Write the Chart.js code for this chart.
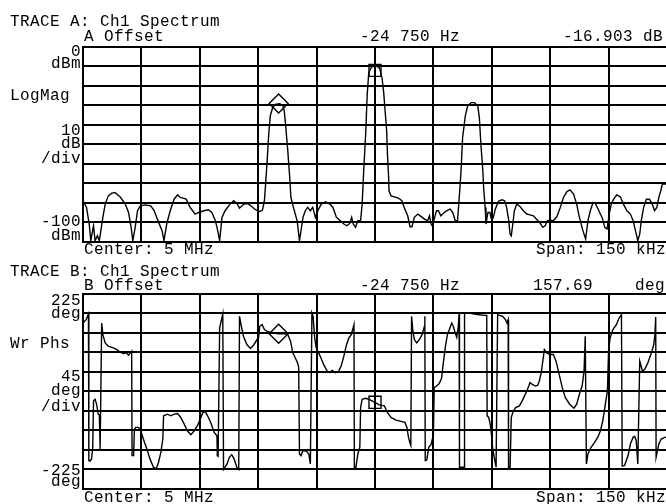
<!DOCTYPE html>
<html>
<head>
<meta charset="utf-8">
<script src="https://cdn.jsdelivr.net/npm/chart.js@4.4.1/dist/chart.umd.min.js"></script>
<style>
  html, body { margin: 0; padding: 0; background: #fff; overflow: hidden; width: 666px; height: 504px; }
  canvas { position: absolute; left: 0; }
  #magChart { top: 0; }
  #phaseChart { top: 259px; }
</style>
</head>
<body>
<canvas id="magChart" width="670" height="259"></canvas>
<canvas id="phaseChart" width="670" height="245"></canvas>
<script>
// frequency offsets are in kHz from the 5 MHz center, span 150 kHz
const specFreq = [-75, -74.1, -73.4, -73.0, -72.3, -71.9, -71.3, -70.8, -69.9, -69.3, -68.5, -67.6, -66.8, -65.5, -64.2, -63.3, -62.7, -62.2, -61.6, -61.0,
  -60.3, -59.0, -57.6, -56.7, -55.9, -54.7, -54.2, -53.5, -52.6, -51.6, -50.7, -50.0, -48.5, -47.5, -46.2, -45.3, -44.0, -42.8, -41.9, -41.0,
  -40.4, -39.9, -39.3, -38.5, -37.4, -36.3, -35.5, -34.8, -33.7, -32.7, -31.9, -30.7, -29.6, -28.9, -28.4, -28.1, -27.7, -27.3, -26.9, -26.3,
  -25.6, -24.5, -23.7, -23.3, -22.9, -22.4, -21.9, -21.6, -20.9, -20.0, -19.4, -19.0, -18.5, -17.9, -17.3, -16.6, -16.0, -15.3, -14.7, -13.8,
  -12.7, -11.6, -10.8, -9.9, -8.9, -8.0, -7.2, -6.5, -6.0, -5.6, -5.0, -4.4, -3.7, -3.3, -2.9, -2.4, -2.0, -1.6, -1.0, -0.6,
  0.4, 1.2, 1.8, 2.2, 2.6, 3.0, 3.2, 3.5, 3.6, 4.1, 5.0, 6.0, 6.9, 7.5, 8.4, 9.0, 9.5, 10.1, 11.0, 11.8,
  12.7, 13.5, 14.0, 14.4, 14.8, 15.2, 15.8, 16.3, 16.9, 17.8, 18.7, 19.3, 20.0, 20.6, 21.2, 21.7, 22.1, 22.5, 23.2, 23.8,
  24.7, 25.5, 26.4, 26.8, 27.2, 27.7, 27.9, 28.3, 28.5, 29.0, 29.5, 30.0, 30.4, 30.9, 31.7, 32.6, 33.3, 33.8, 34.3, 34.7,
  35.0, 35.4, 35.8, 36.4, 37.3, 38.1, 39.0, 39.8, 40.7, 41.6, 42.4, 43.1, 43.7, 44.3, 45.0, 45.8, 46.7, 47.6, 48.4, 49.3,
  50.1, 51.0, 51.8, 52.5, 53.4, 54.1, 54.7, 55.3, 56.0, 56.6, 57.5, 58.4, 59.0, 59.6, 60.3, 60.7, 61.3, 62.1, 63.0, 63.8,
  64.7, 65.6, 66.3, 66.9, 67.5, 68.0, 68.4, 69.0, 69.7, 70.5, 71.2, 71.8, 72.4, 72.9, 73.4, 73.8, 75.0];
const specLevel = [-78.9, -82.3, -90.8, -99.3, -91.7, -99.3, -96.8, -99.3, -87.4, -80.6, -76.4, -75.0, -74.7, -76.9, -80.3, -84.9, -91.7, -99.3, -92.5, -84.0,
  -81.5, -81.0, -81.5, -84.0, -88.3, -94.2, -99.3, -90.8, -84.0, -78.1, -75.9, -77.2, -78.1, -82.3, -85.7, -84.9, -84.0, -83.5, -84.9, -89.1,
  -94.2, -99.3, -87.4, -84.0, -81.0, -78.9, -80.1, -82.7, -80.6, -80.3, -81.5, -83.5, -84.4, -83.7, -78.9, -70.4, -58.5, -44.9, -35.5, -31.3,
  -29.6, -29.3, -30.0, -33.0, -41.5, -53.4, -67.0, -77.2, -82.7, -89.1, -99.3, -94.2, -87.4, -84.0, -82.3, -84.0, -82.3, -87.4, -84.0, -80.6,
  -79.4, -80.6, -82.3, -87.4, -89.1, -90.8, -91.7, -90.5, -87.4, -90.8, -92.5, -89.1, -89.1, -80.6, -63.6, -44.9, -24.5, -13.4, -10.9, -10.2,
  -9.9, -11.2, -16.0, -22.8, -33.0, -43.2, -55.1, -67.0, -73.8, -76.4, -76.9, -77.5, -78.9, -82.3, -86.6, -92.2, -92.2, -87.4, -85.7, -86.9,
  -88.3, -89.1, -86.6, -90.8, -92.0, -88.3, -84.0, -84.0, -86.6, -84.9, -83.7, -83.2, -84.9, -89.1, -89.1, -75.5, -63.6, -46.6, -35.5, -30.4,
  -28.7, -28.7, -30.4, -36.4, -50.0, -63.6, -72.1, -82.3, -90.8, -84.9, -84.9, -89.1, -87.4, -83.2, -79.2, -78.4, -78.9, -82.3, -88.3, -95.9,
  -96.8, -90.8, -84.0, -80.6, -82.0, -84.0, -85.7, -86.1, -86.6, -88.6, -90.3, -92.5, -91.7, -89.1, -88.8, -89.1, -87.1, -82.3, -77.2, -74.2,
  -73.3, -75.5, -80.6, -87.4, -94.2, -98.5, -89.1, -84.0, -79.8, -80.3, -84.0, -87.8, -92.5, -93.4, -84.0, -80.6, -78.1, -75.9, -76.9, -80.6,
  -84.0, -85.7, -89.1, -94.2, -99.3, -95.9, -89.1, -82.3, -78.1, -78.1, -80.6, -84.0, -82.3, -77.2, -73.8, -70.4, -70.4];

const phaseFreq = [-75, -74.2, -73.6, -73.5, -73.2, -72.8, -72.5, -72.3, -71.9, -71.5, -71.1, -70.8, -70.6, -70.4, -70.2, -69.9, -69.3, -68.5, -67.2, -66.3,
  -65.5, -64.6, -63.9, -63.3, -62.7, -62.5, -62.4, -62.0, -61.8, -61.4, -60.8, -60.3, -59.5, -58.6, -57.8, -56.9, -56.2, -55.6, -55.0, -54.5,
  -54.3, -53.3, -52.4, -51.6, -50.7, -49.9, -49.0, -48.2, -47.3, -46.4, -45.6, -44.9, -44.2, -43.6, -43.0, -42.2, -41.3, -40.6, -40.5, -40.3,
  -39.9, -39.1, -38.9, -38.0, -37.4, -36.8, -36.2, -35.5, -35.0, -34.8, -34.4, -33.8, -32.9, -32.0, -31.2, -30.3, -29.9, -29.6, -29.0, -28.4,
  -27.7, -26.5, -24.75, -23.3, -22.4, -21.7, -21.1, -20.5, -19.9, -19.6, -19.4, -19.0, -18.5, -17.6, -17.0, -16.6, -16.2, -15.9, -15.5, -15.1,
  -14.5, -13.9, -13.2, -12.3, -11.6, -11.0, -10.2, -9.3, -8.7, -8.0, -7.3, -6.7, -6.1, -5.4, -5.3, -4.9, -4.4, -3.9, -3.7, -3.3,
  -2.4, -1.6, -0.8, 0, 1.1, 2.4, 3.2, 4.1, 5.4, 6.7, 7.7, 8.2, 8.6, 9.1, 9.2, 9.4, 9.7, 10.1, 10.7, 11.4,
  12.1, 12.7, 12.8, 12.9, 13.3, 13.8, 14.4, 15.0, 15.2, 15.8, 16.5, 17.1, 17.5, 18.1, 18.6, 19.1, 19.7, 20.1, 20.6, 21.0,
  21.4, 21.6, 21.7, 22.9, 23.0, 24.2, 25.5, 26.8, 28.3, 28.7, 28.8, 29.2, 29.6, 29.9, 30.2, 30.7, 31.1, 31.5, 32.0, 32.8,
  33.5, 33.9, 34.2, 34.3, 34.7, 35.0, 35.4, 36.1, 37.1, 37.8, 38.4, 39.0, 39.5, 39.8, 40.4, 41.2, 41.8, 42.2, 42.7, 43.1,
  43.5, 44.1, 45.0, 45.8, 46.5, 47.2, 48.1, 48.9, 50.0, 51.1, 51.8, 52.5, 53.2, 53.7, 54.0, 54.3, 54.7, 55.5, 56.4, 57.3,
  57.9, 58.5, 59.1, 59.7, 60.0, 60.4, 61.1, 62.0, 62.7, 63.3, 63.5, 64.1, 65.0, 65.6, 66.3, 66.7, 67.1, 67.5, 68.0, 68.7,
  69.3, 70.1, 71.0, 71.6, 71.9, 72.1, 72.2, 72.4, 72.9, 73.5, 74.4, 75.0];
const phaseDeg = [157.1, 164.8, 177.7, -159.5, -161.0, -155.7, -129.0, -22.2, -18.4, -29.8, -52.7, -54.2, -132.8, -132.8, 157.1, 130.4, 111.3, 103.7, 99.9, 96.1,
  90.0, 86.9, 88.4, 83.1, 90.0, 92.3, -148.1, -148.1, -87.0, -83.2, -83.2, -87.0, -109.9, -132.8, -155.7, -174.8, -178.6, -163.3, -140.5, -109.9,
  -56.5, -52.7, -56.5, -52.7, -51.2, -60.3, -75.6, -90.9, -100.0, -90.9, -79.4, -64.2, -48.9, -46.6, -56.5, -71.8, -94.7, -102.3, -148.1, -149.6,
  145.7, 177.7, -180.0, -167.2, -151.9, -145.8, -155.7, -174.8, -180.0, 172.4, 153.3, 126.6, 107.5, 98.4, 106.0, 119.0, 122.8, 149.5, 153.3, 141.9,
  138.0, 134.5, 132.2, 133.0, 130.4, 115.1, 88.4, 77.0, 65.6, 55.6, -144.3, -148.1, -136.6, -138.2, -144.3, -167.2, 180.0, 172.4, 122.8, 99.9,
  88.4, 77.0, 61.7, 46.5, 42.7, 48.0, 42.7, 46.5, 57.9, 80.8, 107.5, 122.8, 130.4, 153.3, -174.8, -174.8, -144.3, -129.0, -37.5, -18.4,
  -16.1, -18.4, -22.0, -25.5, -31.3, -33.6, -48.9, -60.3, -66.4, -69.5, -71.8, -83.2, -106.1, -122.9, -125.2, 172.4, 141.9, 119.0, 111.3, 119.0,
  130.4, 149.5, 172.4, -159.5, -158.0, -129.0, -122.9, -100.0, 8.3, 12.1, 17.5, 29.7, 61.7, 103.7, 130.4, 141.9, 157.1, 149.5, 134.2, 124.3,
  149.5, 180.0, -174.8, -174.8, 180.0, 180.0, 177.7, 176.2, 174.7, 174.7, -56.5, -60.3, -75.6, -98.5, -129.0, -155.7, -174.8, 176.2, 174.7, 172.4,
  164.8, 157.1, 164.8, -174.8, -174.8, -60.3, -48.9, -37.5, -33.6, -22.2, -10.7, 0.7, 12.1, 19.8, 16.0, 12.1, 13.7, 23.6, 42.7, 69.4,
  96.1, 88.4, 84.6, 84.6, 69.4, 42.7, 8.3, -14.6, -29.8, -39.0, -29.8, -6.9, 12.1, 46.5, 126.6, -167.2, -144.3, -129.0, -117.6, -104.6,
  -90.9, -68.0, -33.6, 0.7, 96.1, 122.8, 141.9, 153.3, 168.6, 176.2, -172.5, -171.0, -148.1, -121.4, -106.1, -103.8, -113.7, -167.2, 69.4, 46.5,
  50.3, 65.6, 88.4, 107.5, 130.4, 170.9, -151.9, -151.9, -121.4, -109.9, -106.1, -106.1];

// offset marker (diamond) and main marker (square)
const markerFreq = [-24.75, 0];
const markerMag = [-29.1, -12.2];
const markerPhase = [132.2, -25.5];

const magRange = [-100, 0, 10];
const phaseRange = [-225, 225, 45];

const magLabels = [
  ['TRACE A: Ch1 Spectrum', 10, 26, 'left'], ['A Offset', 84, 40.5, 'left'],
  ['-24 750 Hz', 360, 40.5, 'left'], ['-16.903 dB', 563, 40.5, 'left'],
  ['0', 81, 55.5, 'right'], ['dBm', 81, 68, 'right'], ['LogMag', 10, 100, 'left'],
  ['10', 81, 135, 'right'], ['dB', 81, 148, 'right'], ['/div', 81, 163, 'right'],
  ['-100', 81, 226, 'right'], ['dBm', 81, 240, 'right'],
  ['Center: 5 MHz', 84, 254, 'left'], ['Span: 150 kHz', 536, 254, 'left']
];
const phaseLabels = [
  ['TRACE B: Ch1 Spectrum', 10, 17, 'left'], ['B Offset', 84, 31, 'left'],
  ['-24 750 Hz', 360, 31, 'left'], ['157.69', 533, 31, 'left'], ['deg', 635, 31, 'left'],
  ['225', 81, 46, 'right'], ['deg', 81, 59, 'right'], ['Wr Phs', 10, 89, 'left'],
  ['45', 81, 122, 'right'], ['deg', 81, 136, 'right'], ['/div', 81, 152, 'right'],
  ['-225', 81, 216, 'right'], ['deg', 81, 227, 'right'],
  ['Center: 5 MHz', 84, 243, 'left'], ['Span: 150 kHz', 536, 243, 'left']
];

const screenText = {
  id: 'screenText',
  afterDraw(chart, args, opts) {
    const ctx = chart.ctx;
    ctx.save();
    ctx.fillStyle = '#000';
    ctx.font = '16px "Liberation Mono", monospace';
    ctx.letterSpacing = '0.4px';
    ctx.textBaseline = 'alphabetic';
    opts.items.forEach(([text, x, y, align]) => {
      ctx.textAlign = align;
      ctx.fillText(text, x, y);
    });
    ctx.restore();
  }
};

function pairs(xs, ys) {
  return xs.map((x, i) => ({ x: x, y: ys[i] }));
}

function makePanel(id, xs, ys, markYs, range, padding, labels) {
  const grid = { color: '#000', lineWidth: 2, drawTicks: false };
  const border = { color: '#000', width: 2 };
  return new Chart(document.getElementById(id), {
    type: 'scatter',
    data: {
      datasets: [
        {
          data: pairs(xs, ys),
          showLine: true,
          borderColor: '#000',
          borderWidth: 1.4,
          pointRadius: 0,
          tension: 0
        },
        {
          data: [{ x: markerFreq[0], y: markYs[0] }],
          showLine: false,
          pointStyle: 'rectRot',
          pointRadius: 9.5,
          borderColor: '#000',
          borderWidth: 1.4,
          backgroundColor: 'rgba(0,0,0,0)'
        },
        {
          data: [{ x: markerFreq[1], y: markYs[1] }],
          showLine: false,
          pointStyle: 'rect',
          pointRadius: 8.5,
          borderColor: '#000',
          borderWidth: 1.4,
          backgroundColor: 'rgba(0,0,0,0)'
        }
      ]
    },
    options: {
      responsive: false,
      animation: false,
      devicePixelRatio: 1,
      layout: { padding: padding, autoPadding: false },
      plugins: {
        legend: { display: false },
        tooltip: { enabled: false },
        screenText: { items: labels }
      },
      scales: {
        x: {
          type: 'linear', min: -75, max: 75,
          ticks: { display: false, stepSize: 15 },
          grid: grid, border: border
        },
        y: {
          type: 'linear', min: range[0], max: range[1],
          ticks: { display: false, stepSize: range[2] },
          grid: grid, border: border
        }
      }
    },
    plugins: [screenText]
  });
}

makePanel('magChart', specFreq, specLevel, markerMag, magRange,
  { left: 83, right: 3, top: 46.5, bottom: 17 }, magLabels);
makePanel('phaseChart', phaseFreq, phaseDeg, markerPhase, phaseRange,
  { left: 83, right: 3, top: 34.5, bottom: 15 }, phaseLabels);
</script>
</body>
</html>
